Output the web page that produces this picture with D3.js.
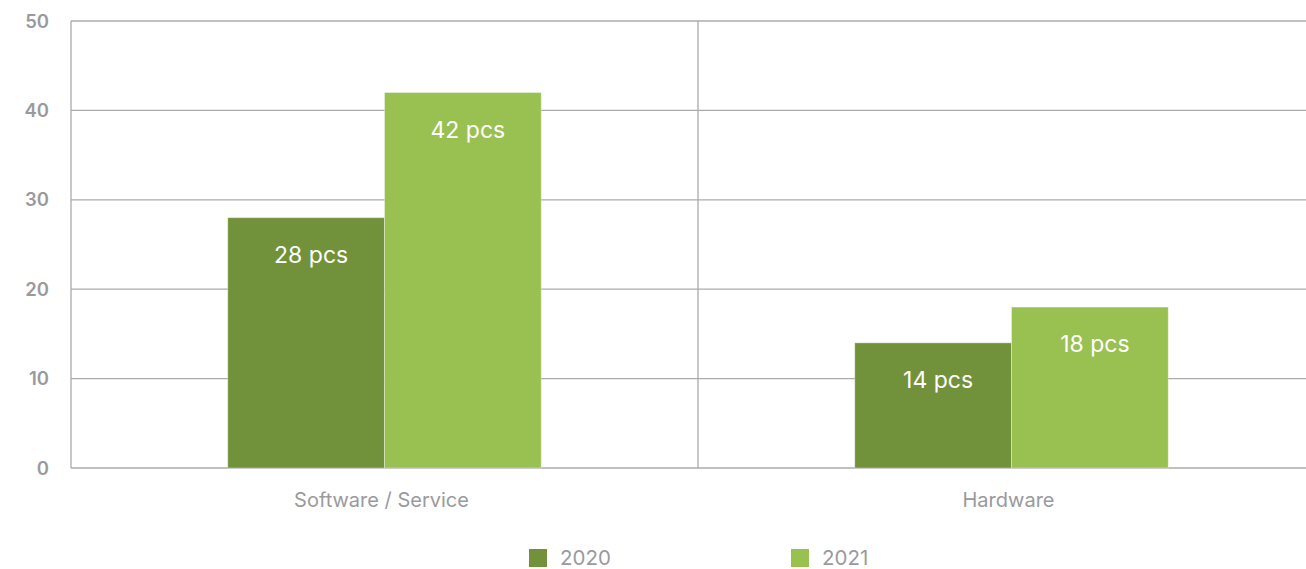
<!DOCTYPE html>
<html>
<head>
<meta charset="utf-8">
<script src="https://cdn.jsdelivr.net/npm/d3@7"></script>
<style>
  html, body { margin: 0; padding: 0; background: #fff; }
  svg { display: block; font-family: Inter, "Liberation Sans", Arial, sans-serif; }
</style>
</head>
<body>
<svg id="chart" width="1306" height="569"></svg>
<script>
// Units counted per category and year
const categories = ["Software / Service", "Hardware"];
const years = ["2020", "2021"];
const values2020 = [28, 14];
const values2021 = [42, 18];
const yTicks = [0, 10, 20, 30, 40, 50];
const unit = "pcs";

const colors = { "2020": "#71923a", "2021": "#99c152" };
const series = { "2020": values2020, "2021": values2021 };

const svg = d3.select("#chart");
const margin = { top: 21, left: 71, bottom: 101 };
const bandWidth = 627;
const height = 569 - margin.top - margin.bottom;

const x = d3.scaleBand()
  .domain(categories)
  .range([margin.left, margin.left + bandWidth * categories.length])
  .paddingInner(0)
  .paddingOuter(0);

const xInner = d3.scaleBand()
  .domain(years)
  .range([0, x.bandwidth()])
  .paddingOuter(1)
  .paddingInner(0);

const y = d3.scaleLinear()
  .domain([0, 50])
  .range([margin.top + height, margin.top]);

const gridColor = "#ababab";

// horizontal grid lines
svg.append("g")
  .selectAll("line")
  .data(yTicks)
  .join("line")
  .attr("x1", margin.left)
  .attr("x2", 1306)
  .attr("y1", d => y(d))
  .attr("y2", d => y(d))
  .attr("stroke", gridColor)
  .attr("stroke-width", 1.3);

// vertical category separators and left axis line
const separators = [x.range()[0]].concat(categories.slice(1).map(c => x(c)));
svg.append("g")
  .selectAll("line")
  .data(separators)
  .join("line")
  .attr("x1", d => d)
  .attr("x2", d => d)
  .attr("y1", y(50))
  .attr("y2", y(0))
  .attr("stroke", gridColor)
  .attr("stroke-width", 1.3);

// y-axis tick labels
svg.append("g")
  .selectAll("text")
  .data(yTicks)
  .join("text")
  .attr("x", 49)
  .attr("y", d => y(d))
  .attr("dy", "0.36em")
  .attr("text-anchor", "end")
  .attr("fill", "#9a9a9c")
  .attr("font-size", 18.5)
  .attr("font-weight", 600)
  .text(d => d);

// bars
const groups = svg.append("g")
  .selectAll("g")
  .data(categories)
  .join("g")
  .attr("transform", c => `translate(${x(c)},0)`);

groups.selectAll("rect")
  .data((c, i) => years.map(yr => ({ yr, v: series[yr][i] })))
  .join("rect")
  .attr("x", d => xInner(d.yr))
  .attr("width", xInner.bandwidth())
  .attr("y", d => y(d.v))
  .attr("height", d => y(0) - y(d.v))
  .attr("fill", d => colors[d.yr])
  .attr("stroke", "#ffffff")
  .attr("stroke-opacity", 0.35)
  .attr("stroke-width", 1);

// value labels inside the bars
groups.selectAll("text")
  .data((c, i) => years.map(yr => ({ yr, v: series[yr][i] })))
  .join("text")
  .attr("x", d => xInner(d.yr) + xInner.bandwidth() / 2 + 5)
  .attr("y", d => y(d.v) + 37)
  .attr("dy", "0.36em")
  .attr("text-anchor", "middle")
  .attr("fill", "#ffffff")
  .attr("font-size", 23)
  .text(d => `${d.v} ${unit}`);

// category labels
svg.append("g")
  .selectAll("text")
  .data(categories)
  .join("text")
  .attr("x", c => x(c) + x.bandwidth() / 2 - 3)
  .attr("y", 500)
  .attr("dy", "0.36em")
  .attr("text-anchor", "middle")
  .attr("fill", "#9a9a9c")
  .attr("font-size", 20)
  .text(c => c);

// legend
const legendX = d3.scalePoint().domain(years).range([529, 791]);
const legend = svg.append("g")
  .selectAll("g")
  .data(years)
  .join("g")
  .attr("transform", yr => `translate(${legendX(yr)},549)`);

legend.append("rect")
  .attr("width", 18)
  .attr("height", 18)
  .attr("fill", yr => colors[yr]);

legend.append("text")
  .attr("x", 31)
  .attr("y", 9)
  .attr("dy", "0.36em")
  .attr("fill", "#9a9a9c")
  .attr("font-size", 20.5)
  .text(yr => yr);
</script>
</body>
</html>
